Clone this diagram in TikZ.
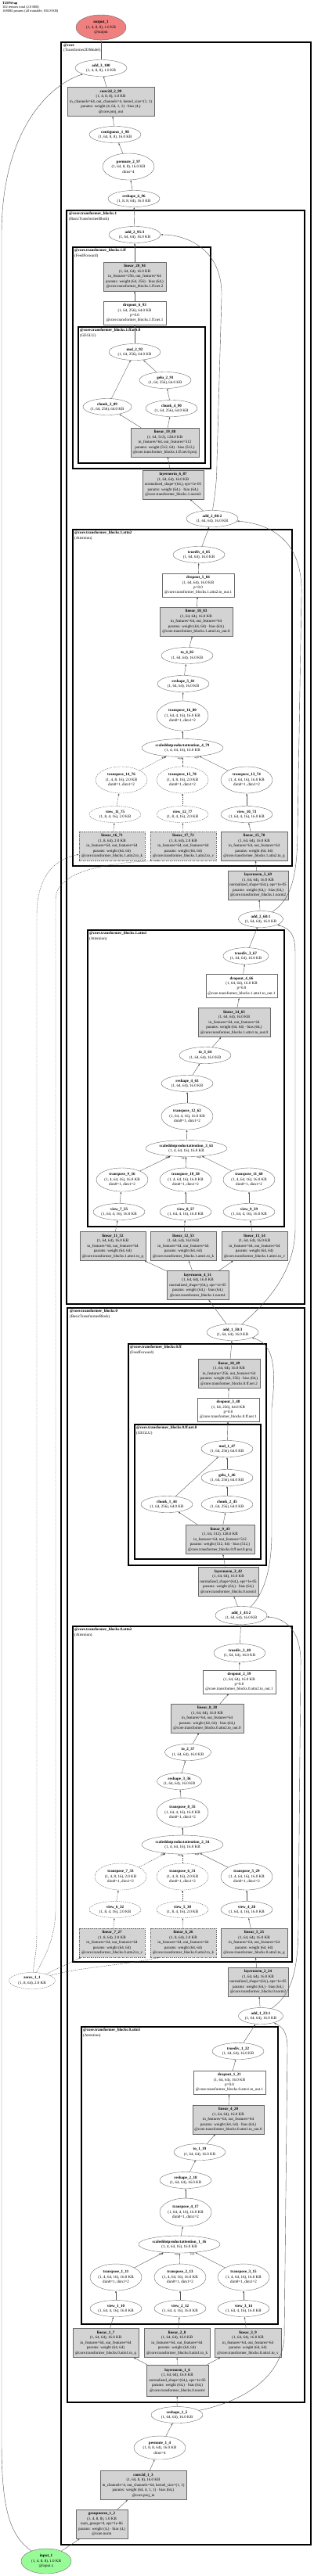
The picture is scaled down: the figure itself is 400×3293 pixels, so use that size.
\documentclass[tikz,border=0pt]{standalone}
\usepackage{fontspec}
\setmainfont{Liberation Serif}
\usetikzlibrary{shapes.geometric}
\usetikzlibrary{arrows.meta}
\definecolor{figRojo}{RGB}{240,128,128}
\definecolor{figVerde}{RGB}{152,251,152}
\definecolor{figGris}{RGB}{211,211,211}
\definecolor{figBorde}{RGB}{105,105,105}
\definecolor{figLinea}{RGB}{85,85,85}
\newcommand{\fuente}{\fontsize{5}{6.4}\selectfont}
\tikzset{
  ovalo/.style={
    ellipse, draw=figBorde, line width=0.4pt, inner sep=0pt,
    minimum width=66, minimum height=21, align=center, font=\fuente
  },
  ovalt/.style={ovalo, minimum height=34},
  ovals/.style={ovalo, minimum width=104, minimum height=23},
  ovalp/.style={ovalo, dash pattern=on 1.5pt off 1pt},
  ovaltp/.style={ovalt, dash pattern=on 1.5pt off 1pt},
  io/.style={ovalo, minimum width=64, minimum height=32},
  caja/.style={
    rectangle, draw=figBorde, fill=figGris, line width=0.4pt,
    minimum height=37, inner sep=0.5pt, align=center, font=\fuente
  },
  cajab/.style={caja, fill=white, minimum height=30},
  cajap/.style={caja, dash pattern=on 1.5pt off 1pt},
  grupo/.style={draw=black, line width=1.1pt},
  grupog/.style={draw=black, line width=1.6pt},
  rotulo/.style={anchor=north west, align=left, inner sep=0pt, font=\fuente},
  etiq/.style={font=\fontsize{3.2}{3.2}\selectfont, inner sep=0.4pt},
  flujo/.style={-{Latex[length=2.6pt,width=2pt]}, line width=0.4pt, draw=figLinea},
  flujop/.style={flujo, dash pattern=on 1.5pt off 1pt}
}
\begin{document}
\begin{tikzpicture}[x=1pt, y=-1pt]
  \useasboundingbox (0,0) rectangle (400,3293);
  \node[rotulo, font=\fontsize{4.4}{5}\selectfont] (titulo) at (3,2) {%
    \textbf{T2DWrap}\\102 tensors total (2.0 MB)\\168084 params (all trainable, 650.8 KB)};

  % clusters
  \draw[grupog] (78,54) rectangle (397,3253);
  \node[rotulo] (r_core) at (81,56) {\textbf{@core}\\(Transformer2DModel)};
  \draw[grupog] (85,269) rectangle (389,1667);
  \node[rotulo] (r_b1) at (88,271) {\textbf{@core.transformer\_blocks.1}\\(BasicTransformerBlock)};
  \draw[grupo] (93,316) rectangle (269,599);
  \node[rotulo] (r_b1ff) at (95,318) {\textbf{@core.transformer\_blocks.1.ff}\\(FeedForward)};
  \draw[grupo] (100,418) rectangle (262,592);
  \node[rotulo] (r_b1net) at (102,420) {\textbf{@core.transformer\_blocks.1.ff.net.0}\\(GEGLU)};
  \draw[grupo] (93,677) rectangle (373,1107);
  \node[rotulo] (r_b1a2) at (95,679) {\textbf{@core.transformer\_blocks.1.attn2}\\(Attention)};
  \draw[grupo] (112,1189) rectangle (363,1568);
  \node[rotulo] (r_b1a1) at (114,1191) {\textbf{@core.transformer\_blocks.1.attn1}\\(Attention)};
  \draw[grupog] (86,1672) rectangle (389,3071);
  \node[rotulo] (r_b0) at (89,1674) {\textbf{@core.transformer\_blocks.0}\\(BasicTransformerBlock)};
  \draw[grupo] (164,1718) rectangle (340,2001);
  \node[rotulo] (r_b0ff) at (166,1720) {\textbf{@core.transformer\_blocks.0.ff}\\(FeedForward)};
  \draw[grupo] (172,1821) rectangle (333,1993);
  \node[rotulo] (r_b0net) at (174,1823) {\textbf{@core.transformer\_blocks.0.ff.net.0}\\(GEGLU)};
  \draw[grupo] (93,2079) rectangle (373,2508);
  \node[rotulo] (r_b0a2) at (95,2081) {\textbf{@core.transformer\_blocks.0.attn2}\\(Attention)};
  \draw[grupo] (104,2591) rectangle (355,2971);
  \node[rotulo] (r_b0a1) at (106,2593) {\textbf{@core.transformer\_blocks.0.attn1}\\(Attention)};

  % salida
  \node[io, fill=figRojo] (output_1) at (129,35) {\textbf{output\_1}\\(1, 4, 8, 8), 1.0 KB\\@output};
  \node[ovalo] (add_3_100) at (129,87) {\textbf{add\_3\_100}\\(1, 4, 8, 8), 1.0 KB};
  \node[caja, minimum width=111] (conv2d_2_99) at (141.5,130) {\textbf{conv2d\_2\_99}\\(1, 4, 8, 8), 1.0 KB\\in\_channels=64, out\_channels=4, kernel\_size=(1, 1)\\params: weight (4, 64, 1, 1) · bias (4,)\\@core.proj\_out};
  \node[ovalo] (contiguous_1_98) at (147,172) {\textbf{contiguous\_1\_98}\\(1, 64, 8, 8), 16.0 KB};
  \node[ovalt] (permute_2_97) at (164,213) {\textbf{permute\_2\_97}\\(1, 64, 8, 8), 16.0 KB\\dims=4};
  \node[ovalo] (reshape_6_96) at (171,254) {\textbf{reshape\_6\_96}\\(1, 8, 8, 64), 16.0 KB};

  % bloque 1
  \node[ovalo] (add_2_95) at (172,300) {\textbf{add\_2\_95:3}\\(1, 64, 64), 16.0 KB};
  \node[caja, minimum width=80] (linear_20_94) at (172,353.5) {\textbf{linear\_20\_94}\\(1, 64, 64), 16.0 KB\\in\_features=256, out\_features=64\\params: weight (64, 256) · bias (64,)\\@core.transformer\_blocks.1.ff.net.2};
  \node[cajab, minimum width=80] (dropout_6_93) at (172,400) {\textbf{dropout\_6\_93}\\(1, 64, 256), 64.0 KB\\p=0.0\\@core.transformer\_blocks.1.ff.net.1};
  \node[ovalo] (mul_2_92) at (172,450) {\textbf{mul\_2\_92}\\(1, 64, 256), 64.0 KB};
  \node[ovalo] (gelu_2_91) at (211,486) {\textbf{gelu\_2\_91}\\(1, 64, 256), 64.0 KB};
  \node[ovalo, minimum width=62] (chunk_3_89) at (137,520) {\textbf{chunk\_3\_89}\\(1, 64, 256), 64.0 KB};
  \node[ovalo] (chunk_4_90) at (219,522) {\textbf{chunk\_4\_90}\\(1, 64, 256), 64.0 KB};
  \node[caja, minimum width=87] (linear_19_88) at (210.5,565.5) {\textbf{linear\_19\_88}\\(1, 64, 512), 128.0 KB\\in\_features=64, out\_features=512\\params: weight (512, 64) · bias (512,)\\@core.transformer\_blocks.1.ff.net.0.proj};
  \node[caja, minimum width=78] (layernorm_6_87) at (221,619.5) {\textbf{layernorm\_6\_87}\\(1, 64, 64), 16.0 KB\\normalized\_shape=(64,), eps=1e-05\\params: weight (64,) · bias (64,)\\@core.transformer\_blocks.1.norm3};
  \node[ovalo] (add_2_88) at (271,663) {\textbf{add\_2\_88:2}\\(1, 64, 64), 16.0 KB};
  \node[ovalo] (truediv_4_85) at (254,709) {\textbf{truediv\_4\_85}\\(1, 64, 64), 16.0 KB};
  \node[cajab, minimum width=92] (dropout_5_84) at (253,748) {\textbf{dropout\_5\_84}\\(1, 64, 64), 16.0 KB\\p=0.0\\@core.transformer\_blocks.1.attn2.to\_out.1};
  \node[caja, minimum width=93] (linear_18_83) at (250.5,794.5) {\textbf{linear\_18\_83}\\(1, 64, 64), 16.0 KB\\in\_features=64, out\_features=64\\params: weight (64, 64) · bias (64,)\\@core.transformer\_blocks.1.attn2.to\_out.0};
  \node[ovalo] (to_4_82) at (239,838) {\textbf{to\_4\_82}\\(1, 64, 64), 16.0 KB};
  \node[ovalo] (reshape_5_81) at (234,874) {\textbf{reshape\_5\_81}\\(1, 64, 64), 16.0 KB};
  \node[ovalt, minimum height=38] (transpose_16_80) at (233,915) {\textbf{transpose\_16\_80}\\(1, 64, 4, 16), 16.0 KB\\dim0=1, dim1=2};
  \node[ovals] (sdpa_4_79) at (233,956) {\textbf{scaleddotproductattention\_4\_79}\\(1, 4, 64, 16), 16.0 KB};
  \node[ovaltp] (transpose_14_76) at (155,997) {\textbf{transpose\_14\_76}\\(1, 4, 8, 16), 2.0 KB\\dim0=1, dim1=2};
  \node[ovaltp] (transpose_15_78) at (233,997) {\textbf{transpose\_15\_78}\\(1, 4, 8, 16), 2.0 KB\\dim0=1, dim1=2};
  \node[ovalt] (transpose_13_74) at (315,997) {\textbf{transpose\_13\_74}\\(1, 4, 64, 16), 16.0 KB\\dim0=1, dim1=2};
  \node[ovalp] (view_11_75) at (147,1041) {\textbf{view\_11\_75}\\(1, 8, 4, 16), 2.0 KB};
  \node[ovalp] (view_12_77) at (233,1041) {\textbf{view\_12\_77}\\(1, 8, 4, 16), 2.0 KB};
  \node[ovalo] (view_10_73) at (315,1041) {\textbf{view\_10\_73}\\(1, 64, 4, 16), 16.0 KB};
  \node[cajap, minimum width=84] (linear_16_71) at (143,1081.5) {\textbf{linear\_16\_71}\\(1, 8, 64), 2.0 KB\\in\_features=64, out\_features=64\\params: weight (64, 64)\\@core.transformer\_blocks.1.attn2.to\_k};
  \node[cajap, minimum width=84] (linear_17_72) at (234,1081.5) {\textbf{linear\_17\_72}\\(1, 8, 64), 2.0 KB\\in\_features=64, out\_features=64\\params: weight (64, 64)\\@core.transformer\_blocks.1.attn2.to\_v};
  \node[caja, minimum width=85] (linear_15_70) at (324.5,1081.5) {\textbf{linear\_15\_70}\\(1, 64, 64), 16.0 KB\\in\_features=64, out\_features=64\\params: weight (64, 64)\\@core.transformer\_blocks.1.attn2.to\_q};
  \node[caja, minimum width=77] (layernorm_5_69) at (329.5,1131.5) {\textbf{layernorm\_5\_69}\\(1, 64, 64), 16.0 KB\\normalized\_shape=(64,), eps=1e-05\\params: weight (64,) · bias (64,)\\@core.transformer\_blocks.1.norm2};
  \node[ovalo, minimum width=57] (add_2_68) at (333,1175) {\textbf{add\_2\_68:1}\\(1, 64, 64), 16.0 KB};
  \node[ovalo, minimum width=58] (truediv_3_67) at (314,1222) {\textbf{truediv\_3\_67}\\(1, 64, 64), 16.0 KB};
  \node[cajab, minimum width=91] (dropout_4_66) at (308.5,1260.5) {\textbf{dropout\_4\_66}\\(1, 64, 64), 16.0 KB\\p=0.0\\@core.transformer\_blocks.1.attn1.to\_out.1};
  \node[caja, minimum width=92] (linear_14_65) at (299,1307) {\textbf{linear\_14\_65}\\(1, 64, 64), 16.0 KB\\in\_features=64, out\_features=64\\params: weight (64, 64) · bias (64,)\\@core.transformer\_blocks.1.attn1.to\_out.0};
  \node[ovalo] (to_3_64) at (262,1349) {\textbf{to\_3\_64}\\(1, 64, 64), 16.0 KB};
  \node[ovalo] (reshape_4_63) at (239,1385) {\textbf{reshape\_4\_63}\\(1, 64, 64), 16.0 KB};
  \node[ovalt] (transpose_12_62) at (239,1427) {\textbf{transpose\_12\_62}\\(1, 64, 4, 16), 16.0 KB\\dim0=1, dim1=2};
  \node[ovals, minimum height=21] (sdpa_3_61) at (238,1468) {\textbf{scaleddotproductattention\_3\_61}\\(1, 4, 64, 16), 16.0 KB};
  \node[ovalt, minimum height=30] (transpose_9_56) at (156,1508) {\textbf{transpose\_9\_56}\\(1, 4, 64, 16), 16.0 KB\\dim0=1, dim1=2};
  \node[ovalt, minimum height=30] (transpose_10_58) at (237,1508) {\textbf{transpose\_10\_58}\\(1, 4, 64, 16), 16.0 KB\\dim0=1, dim1=2};
  \node[ovalt, minimum height=30] (transpose_11_60) at (318,1508) {\textbf{transpose\_11\_60}\\(1, 4, 64, 16), 16.0 KB\\dim0=1, dim1=2};
  \node[ovalo] (view_7_55) at (152,1549) {\textbf{view\_7\_55}\\(1, 64, 4, 16), 16.0 KB};
  \node[ovalo] (view_8_57) at (237,1549) {\textbf{view\_8\_57}\\(1, 64, 4, 16), 16.0 KB};
  \node[ovalo] (view_9_59) at (318,1549) {\textbf{view\_9\_59}\\(1, 64, 4, 16), 16.0 KB};
  \node[caja, minimum width=84] (linear_11_52) at (144,1593) {\textbf{linear\_11\_52}\\(1, 64, 64), 16.0 KB\\in\_features=64, out\_features=64\\params: weight (64, 64)\\@core.transformer\_blocks.1.attn1.to\_q};
  \node[caja, minimum width=84] (linear_12_53) at (234,1593) {\textbf{linear\_12\_53}\\(1, 64, 64), 16.0 KB\\in\_features=64, out\_features=64\\params: weight (64, 64)\\@core.transformer\_blocks.1.attn1.to\_k};
  \node[caja, minimum width=84] (linear_13_54) at (325,1593) {\textbf{linear\_13\_54}\\(1, 64, 64), 16.0 KB\\in\_features=64, out\_features=64\\params: weight (64, 64)\\@core.transformer\_blocks.1.attn1.to\_v};
  \node[caja, minimum width=79] (layernorm_4_51) at (252.5,1643) {\textbf{layernorm\_4\_51}\\(1, 64, 64), 16.0 KB\\normalized\_shape=(64,), eps=1e-05\\params: weight (64,) · bias (64,)\\@core.transformer\_blocks.1.norm1};

  % bloque 0
  \node[ovalo] (add_1_50) at (297,1703) {\textbf{add\_1\_50:3}\\(1, 64, 64), 16.0 KB};
  \node[caja, minimum width=79] (linear_10_49) at (292.5,1756) {\textbf{linear\_10\_49}\\(1, 64, 64), 16.0 KB\\in\_features=256, out\_features=64\\params: weight (64, 256) · bias (64,)\\@core.transformer\_blocks.0.ff.net.2};
  \node[cajab, minimum width=79] (dropout_3_48) at (291.5,1802) {\textbf{dropout\_3\_48}\\(1, 64, 256), 64.0 KB\\p=0.0\\@core.transformer\_blocks.0.ff.net.1};
  \node[ovalo] (mul_1_47) at (290,1852) {\textbf{mul\_1\_47}\\(1, 64, 256), 64.0 KB};
  \node[ovalo] (gelu_1_46) at (290,1889) {\textbf{gelu\_1\_46}\\(1, 64, 256), 64.0 KB};
  \node[ovalo] (chunk_1_44) at (213,1923) {\textbf{chunk\_1\_44}\\(1, 64, 256), 64.0 KB};
  \node[ovalo] (chunk_2_45) at (290,1923) {\textbf{chunk\_2\_45}\\(1, 64, 256), 64.0 KB};
  \node[caja, minimum width=88] (linear_9_43) at (281,1968) {\textbf{linear\_9\_43}\\(1, 64, 512), 128.0 KB\\in\_features=64, out\_features=512\\params: weight (512, 64) · bias (512,)\\@core.transformer\_blocks.0.ff.net.0.proj};
  \node[caja, minimum width=77] (layernorm_3_42) at (291.5,2022) {\textbf{layernorm\_3\_42}\\(1, 64, 64), 16.0 KB\\normalized\_shape=(64,), eps=1e-05\\params: weight (64,) · bias (64,)\\@core.transformer\_blocks.0.norm3};
  \node[ovalo, minimum height=23] (add_1_43) at (308,2065) {\textbf{add\_1\_43:2}\\(1, 64, 64), 16.0 KB};
  \node[ovalo, minimum height=23] (truediv_2_40) at (306,2113) {\textbf{truediv\_2\_40}\\(1, 64, 64), 16.0 KB};
  \node[cajab, minimum width=93] (dropout_2_39) at (305.5,2150) {\textbf{dropout\_2\_39}\\(1, 64, 64), 16.0 KB\\p=0.0\\@core.transformer\_blocks.0.attn2.to\_out.1};
  \node[caja, minimum width=93] (linear_8_38) at (264.5,2196.5) {\textbf{linear\_8\_38}\\(1, 64, 64), 16.0 KB\\in\_features=64, out\_features=64\\params: weight (64, 64) · bias (64,)\\@core.transformer\_blocks.0.attn2.to\_out.0};
  \node[ovalo, minimum width=59] (to_2_37) at (240,2240) {\textbf{to\_2\_37}\\(1, 64, 64), 16.0 KB};
  \node[ovalo, minimum width=57] (reshape_3_36) at (229,2277) {\textbf{reshape\_3\_36}\\(1, 64, 64), 16.0 KB};
  \node[ovalt, minimum height=37] (transpose_8_35) at (233,2317) {\textbf{transpose\_8\_35}\\(1, 64, 4, 16), 16.0 KB\\dim0=1, dim1=2};
  \node[ovals, minimum height=24] (sdpa_2_34) at (233,2358) {\textbf{scaleddotproductattention\_2\_34}\\(1, 4, 64, 16), 16.0 KB};
  \node[ovaltp] (transpose_7_33) at (154,2399) {\textbf{transpose\_7\_33}\\(1, 4, 8, 16), 2.0 KB\\dim0=1, dim1=2};
  \node[ovaltp] (transpose_6_31) at (233,2399) {\textbf{transpose\_6\_31}\\(1, 4, 8, 16), 2.0 KB\\dim0=1, dim1=2};
  \node[ovalt] (transpose_5_29) at (315,2399) {\textbf{transpose\_5\_29}\\(1, 4, 64, 16), 16.0 KB\\dim0=1, dim1=2};
  \node[ovalp] (view_6_32) at (147,2441) {\textbf{view\_6\_32}\\(1, 8, 4, 16), 2.0 KB};
  \node[ovalp] (view_5_30) at (233,2441) {\textbf{view\_5\_30}\\(1, 8, 4, 16), 2.0 KB};
  \node[ovalo] (view_4_28) at (315,2441) {\textbf{view\_4\_28}\\(1, 64, 4, 16), 16.0 KB};
  \node[cajap, minimum width=84] (linear_7_27) at (143,2483.5) {\textbf{linear\_7\_27}\\(1, 8, 64), 2.0 KB\\in\_features=64, out\_features=64\\params: weight (64, 64)\\@core.transformer\_blocks.0.attn2.to\_v};
  \node[cajap, minimum width=84] (linear_6_26) at (234,2483.5) {\textbf{linear\_6\_26}\\(1, 8, 64), 2.0 KB\\in\_features=64, out\_features=64\\params: weight (64, 64)\\@core.transformer\_blocks.0.attn2.to\_k};
  \node[caja, minimum width=85] (linear_5_25) at (324.5,2483.5) {\textbf{linear\_5\_25}\\(1, 64, 64), 16.0 KB\\in\_features=64, out\_features=64\\params: weight (64, 64)\\@core.transformer\_blocks.0.attn2.to\_q};
  \node[ovalp, minimum width=59] (zeros_1_1) at (41,2532) {\textbf{zeros\_1\_1}\\(1, 8, 64), 2.0 KB};
  \node[caja, minimum width=77] (layernorm_2_24) at (329.5,2533.5) {\textbf{layernorm\_2\_24}\\(1, 64, 64), 16.0 KB\\normalized\_shape=(64,), eps=1e-05\\params: weight (64,) · bias (64,)\\@core.transformer\_blocks.0.norm2};
  \node[ovalo, minimum width=57] (add_1_23) at (333,2577) {\textbf{add\_1\_23:1}\\(1, 64, 64), 16.0 KB};
  \node[ovalo] (truediv_1_22) at (304,2622) {\textbf{truediv\_1\_22}\\(1, 64, 64), 16.0 KB};
  \node[cajab, minimum width=92] (dropout_1_21) at (293,2662) {\textbf{dropout\_1\_21}\\(1, 64, 64), 16.0 KB\\p=0.0\\@core.transformer\_blocks.0.attn1.to\_out.1};
  \node[caja, minimum width=91] (linear_4_20) at (291.5,2709.5) {\textbf{linear\_4\_20}\\(1, 64, 64), 16.0 KB\\in\_features=64, out\_features=64\\params: weight (64, 64) · bias (64,)\\@core.transformer\_blocks.0.attn1.to\_out.0};
  \node[ovalo] (to_1_19) at (255,2751) {\textbf{to\_1\_19}\\(1, 64, 64), 16.0 KB};
  \node[ovalo] (reshape_2_18) at (237,2787) {\textbf{reshape\_2\_18}\\(1, 64, 64), 16.0 KB};
  \node[ovalt, minimum height=36] (transpose_4_17) at (237,2828) {\textbf{transpose\_4\_17}\\(1, 64, 4, 16), 16.0 KB\\dim0=1, dim1=2};
  \node[ovals, minimum height=22] (sdpa_1_16) at (229,2869) {\textbf{scaleddotproductattention\_1\_16}\\(1, 4, 64, 16), 16.0 KB};
  \node[ovalt] (transpose_1_11) at (148,2911) {\textbf{transpose\_1\_11}\\(1, 4, 64, 16), 16.0 KB\\dim0=1, dim1=2};
  \node[ovalt] (transpose_2_13) at (230,2911) {\textbf{transpose\_2\_13}\\(1, 4, 64, 16), 16.0 KB\\dim0=1, dim1=2};
  \node[ovalt] (transpose_3_15) at (311,2911) {\textbf{transpose\_3\_15}\\(1, 4, 64, 16), 16.0 KB\\dim0=1, dim1=2};
  \node[ovalo] (view_1_10) at (148,2951) {\textbf{view\_1\_10}\\(1, 64, 4, 16), 16.0 KB};
  \node[ovalo] (view_2_12) at (230,2951) {\textbf{view\_2\_12}\\(1, 64, 4, 16), 16.0 KB};
  \node[ovalo] (view_3_14) at (311,2951) {\textbf{view\_3\_14}\\(1, 64, 4, 16), 16.0 KB};
  \node[caja, minimum width=84] (linear_1_7) at (135,2995) {\textbf{linear\_1\_7}\\(1, 64, 64), 16.0 KB\\in\_features=64, out\_features=64\\params: weight (64, 64)\\@core.transformer\_blocks.0.attn1.to\_q};
  \node[caja, minimum width=84] (linear_2_8) at (226,2995) {\textbf{linear\_2\_8}\\(1, 64, 64), 16.0 KB\\in\_features=64, out\_features=64\\params: weight (64, 64)\\@core.transformer\_blocks.0.attn1.to\_k};
  \node[caja, minimum width=85] (linear_3_9) at (316.5,2995) {\textbf{linear\_3\_9}\\(1, 64, 64), 16.0 KB\\in\_features=64, out\_features=64\\params: weight (64, 64)\\@core.transformer\_blocks.0.attn1.to\_v};
  \node[caja, minimum width=79, minimum height=40] (layernorm_1_6) at (226.5,3043) {\textbf{layernorm\_1\_6}\\(1, 64, 64), 16.0 KB\\normalized\_shape=(64,), eps=1e-05\\params: weight (64,) · bias (64,)\\@core.transformer\_blocks.0.norm1};

  % entrada
  \node[ovalo] (reshape_1_5) at (226,3087) {\textbf{reshape\_1\_5}\\(1, 64, 64), 16.0 KB};
  \node[ovalt, minimum height=30] (permute_1_4) at (204,3129) {\textbf{permute\_1\_4}\\(1, 8, 8, 64), 16.0 KB\\dims=4};
  \node[caja, minimum width=110] (conv2d_1_3) at (183,3177) {\textbf{conv2d\_1\_3}\\(1, 64, 8, 8), 16.0 KB\\in\_channels=4, out\_channels=64, kernel\_size=(1, 1)\\params: weight (64, 4, 1, 1) · bias (64,)\\@core.proj\_in};
  \node[caja, minimum width=66] (groupnorm_1_2) at (130,3226.5) {\textbf{groupnorm\_1\_2}\\(1, 4, 8, 8), 1.0 KB\\num\_groups=4, eps=1e-06\\params: weight (4,) · bias (4,)\\@core.norm};
  \node[io, fill=figVerde] (input_1) at (59,3274) {\textbf{input\_1}\\(1, 4, 8, 8), 1.0 KB\\@input.x};

  % flechas entrada
  \draw[flujo] (input_1) -- (groupnorm_1_2);
  \draw[flujo] (groupnorm_1_2) -- (conv2d_1_3);
  \draw[flujo] (conv2d_1_3) -- (permute_1_4);
  \draw[flujo] (permute_1_4) -- (reshape_1_5);
  \draw[flujo] (reshape_1_5) -- (layernorm_1_6);
  \draw[flujo] (input_1) .. controls (10,3240) and (2,3200) .. (2,3120) -- (2,300) .. controls (2,170) and (60,110) .. (add_3_100);
  \draw[flujo] (reshape_1_5) .. controls (310,3070) and (358,3040) .. (363,2990) -- (367,2620) .. controls (367,2598) and (362,2592) .. (add_1_23);

  % flechas bloque 0, attn1
  \draw[flujo] (layernorm_1_6) -- (linear_1_7);
  \draw[flujo] (layernorm_1_6) -- (linear_2_8);
  \draw[flujo] (layernorm_1_6) -- (linear_3_9);
  \draw[flujo] (linear_1_7) -- (view_1_10);
  \draw[flujo] (linear_2_8) -- (view_2_12);
  \draw[flujo] (linear_3_9) -- (view_3_14);
  \draw[flujo] (view_1_10) -- (transpose_1_11);
  \draw[flujo] (view_2_12) -- (transpose_2_13);
  \draw[flujo] (view_3_14) -- (transpose_3_15);
  \draw[flujo] (transpose_1_11) -- (sdpa_1_16) node[etiq, pos=1, anchor=north east] {arg0};
  \draw[flujo] (transpose_2_13) -- (sdpa_1_16) node[etiq, pos=1, anchor=north east] {arg1};
  \draw[flujo] (transpose_3_15) -- (sdpa_1_16) node[etiq, pos=1, anchor=north east] {arg2};
  \draw[flujo] (sdpa_1_16) -- (transpose_4_17);
  \draw[flujo] (transpose_4_17) -- (reshape_2_18);
  \draw[flujo] (reshape_2_18) -- (to_1_19);
  \draw[flujo] (to_1_19) -- (linear_4_20);
  \draw[flujo] (linear_4_20) -- (dropout_1_21);
  \draw[flujo] (dropout_1_21) -- (truediv_1_22);
  \draw[flujo] (truediv_1_22) -- (add_1_23);
  \draw[flujo] (add_1_23) -- (layernorm_2_24);
  \draw[flujo] (add_1_23) .. controls (372,2550) and (381,2520) .. (381,2460) -- (384,2130) .. controls (386,2080) and (360,2068) .. (add_1_43);

  % flechas bloque 0, attn2
  \draw[flujo] (layernorm_2_24) -- (linear_5_25);
  \draw[flujop] (zeros_1_1) -- (linear_7_27);
  \draw[flujop] (zeros_1_1) .. controls (100,2515) and (160,2512) .. ([xshift=11pt]linear_6_26.south west);
  \draw[flujop] (zeros_1_1) .. controls (44,2505) and (47,2495) .. (47,2470) -- (47,1170) .. controls (47,1120) and (70,1098) .. ([yshift=8pt]linear_16_71.south west);
  \draw[flujop] (zeros_1_1) .. controls (55,2505) and (71,2480) .. (71,2440) -- (71,1150) .. controls (71,1110) and (150,1102) .. ([xshift=11pt]linear_17_72.south west);
  \draw[flujo] (linear_5_25) -- (view_4_28);
  \draw[flujop] (linear_6_26) -- (view_5_30);
  \draw[flujop] (linear_7_27) -- (view_6_32);
  \draw[flujo] (view_4_28) -- (transpose_5_29);
  \draw[flujop] (view_5_30) -- (transpose_6_31);
  \draw[flujop] (view_6_32) -- (transpose_7_33);
  \draw[flujop] (transpose_7_33) -- (sdpa_2_34) node[etiq, pos=1, anchor=north east] {arg2};
  \draw[flujop] (transpose_6_31) -- (sdpa_2_34) node[etiq, pos=1, anchor=north east] {arg1};
  \draw[flujo] (transpose_5_29) -- (sdpa_2_34) node[etiq, pos=1, anchor=north east] {arg0};
  \draw[flujo] (sdpa_2_34) -- (transpose_8_35);
  \draw[flujo] (transpose_8_35) -- (reshape_3_36);
  \draw[flujo] (reshape_3_36) -- (to_2_37);
  \draw[flujo] (to_2_37) -- (linear_8_38);
  \draw[flujo] (linear_8_38) -- (dropout_2_39);
  \draw[flujo] (dropout_2_39) -- (truediv_2_40);
  \draw[flujo] (truediv_2_40) -- (add_1_43);

  % flechas bloque 0, ff
  \draw[flujo] (add_1_43) -- (layernorm_3_42);
  \draw[flujo] (layernorm_3_42) -- (linear_9_43);
  \draw[flujo] (linear_9_43) -- (chunk_1_44);
  \draw[flujo] (linear_9_43) -- (chunk_2_45);
  \draw[flujo] (chunk_2_45) -- (gelu_1_46);
  \draw[flujo] (gelu_1_46) -- (mul_1_47);
  \draw[flujo] (chunk_1_44) -- (mul_1_47);
  \draw[flujo] (mul_1_47) -- (dropout_3_48);
  \draw[flujo] (dropout_3_48) -- (linear_10_49);
  \draw[flujo] (linear_10_49) -- (add_1_50);
  \draw[flujo] (add_1_43) .. controls (335,2040) and (347,2010) .. (347,1960) -- (347,1800) .. controls (353,1750) and (350,1718) .. (add_1_50);

  % flechas bloque 1, attn1
  \draw[flujo] (add_1_50) -- (layernorm_4_51);
  \draw[flujo] (add_1_50) .. controls (335,1670) and (377,1630) .. (377,1570) -- (377,1220) .. controls (377,1195) and (372,1188) .. (add_2_68);
  \draw[flujo] (layernorm_4_51) -- (linear_11_52);
  \draw[flujo] (layernorm_4_51) -- (linear_12_53);
  \draw[flujo] (layernorm_4_51) -- (linear_13_54);
  \draw[flujo] (linear_11_52) -- (view_7_55);
  \draw[flujo] (linear_12_53) -- (view_8_57);
  \draw[flujo] (linear_13_54) -- (view_9_59);
  \draw[flujo] (view_7_55) -- (transpose_9_56);
  \draw[flujo] (view_8_57) -- (transpose_10_58);
  \draw[flujo] (view_9_59) -- (transpose_11_60);
  \draw[flujo] (transpose_9_56) -- (sdpa_3_61) node[etiq, pos=1, anchor=north east] {arg0};
  \draw[flujo] (transpose_10_58) -- (sdpa_3_61) node[etiq, pos=1, anchor=north east] {arg1};
  \draw[flujo] (transpose_11_60) -- (sdpa_3_61) node[etiq, pos=1, anchor=north east] {arg2};
  \draw[flujo] (sdpa_3_61) -- (transpose_12_62);
  \draw[flujo] (transpose_12_62) -- (reshape_4_63);
  \draw[flujo] (reshape_4_63) -- (to_3_64);
  \draw[flujo] (to_3_64) -- (linear_14_65);
  \draw[flujo] (linear_14_65) -- (dropout_4_66);
  \draw[flujo] (dropout_4_66) -- (truediv_3_67);
  \draw[flujo] (truediv_3_67) -- (add_2_68);

  % flechas bloque 1, attn2
  \draw[flujo] (add_2_68) -- (layernorm_5_69);
  \draw[flujo] (add_2_68) .. controls (372,1150) and (380,1120) .. (380,1060) -- (385,760) .. controls (387,690) and (345,670) .. (add_2_88);
  \draw[flujo] (layernorm_5_69) -- (linear_15_70);
  \draw[flujo] (linear_15_70) -- (view_10_73);
  \draw[flujop] (linear_16_71) -- (view_11_75);
  \draw[flujop] (linear_17_72) -- (view_12_77);
  \draw[flujo] (view_10_73) -- (transpose_13_74);
  \draw[flujop] (view_11_75) -- (transpose_14_76);
  \draw[flujop] (view_12_77) -- (transpose_15_78);
  \draw[flujop] (transpose_14_76) -- (sdpa_4_79) node[etiq, pos=1, anchor=north east] {arg1};
  \draw[flujop] (transpose_15_78) -- (sdpa_4_79) node[etiq, pos=1, anchor=north east] {arg2};
  \draw[flujo] (transpose_13_74) -- (sdpa_4_79) node[etiq, pos=1, anchor=north east] {arg0};
  \draw[flujo] (sdpa_4_79) -- (transpose_16_80);
  \draw[flujo] (transpose_16_80) -- (reshape_5_81);
  \draw[flujo] (reshape_5_81) -- (to_4_82);
  \draw[flujo] (to_4_82) -- (linear_18_83);
  \draw[flujo] (linear_18_83) -- (dropout_5_84);
  \draw[flujo] (dropout_5_84) -- (truediv_4_85);
  \draw[flujo] (truediv_4_85) -- (add_2_88);

  % flechas bloque 1, ff
  \draw[flujo] (add_2_88) -- (layernorm_6_87);
  \draw[flujo] (add_2_88) .. controls (272,645) and (277,625) .. (277,590) -- (283,380) .. controls (285,320) and (240,300) .. (add_2_95);
  \draw[flujo] (layernorm_6_87) -- (linear_19_88);
  \draw[flujo] (linear_19_88) -- (chunk_3_89);
  \draw[flujo] (linear_19_88) -- (chunk_4_90);
  \draw[flujo] (chunk_4_90) -- (gelu_2_91);
  \draw[flujo] (gelu_2_91) -- (mul_2_92);
  \draw[flujo] (chunk_3_89) -- (mul_2_92);
  \draw[flujo] (mul_2_92) -- (dropout_6_93);
  \draw[flujo] (dropout_6_93) -- (linear_20_94);
  \draw[flujo] (linear_20_94) -- (add_2_95);

  % flechas salida
  \draw[flujo] (add_2_95) -- (reshape_6_96);
  \draw[flujo] (reshape_6_96) -- (permute_2_97);
  \draw[flujo] (permute_2_97) -- (contiguous_1_98);
  \draw[flujo] (contiguous_1_98) -- (conv2d_2_99);
  \draw[flujo] (conv2d_2_99) -- (add_3_100);
  \draw[flujo] (add_3_100) -- (output_1);
\end{tikzpicture}
\end{document}
